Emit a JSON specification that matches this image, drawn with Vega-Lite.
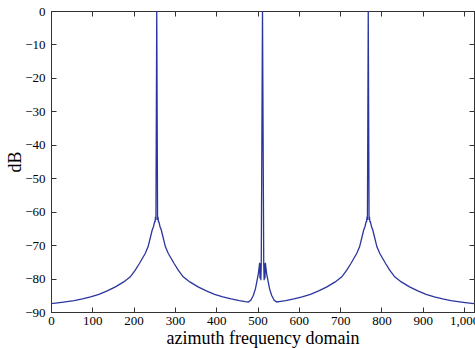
{
  "$schema": "https://vega.github.io/schema/vega-lite/v6.json",
  "width": 423,
  "height": 301,
  "autosize": {"type": "none"},
  "padding": {"left": 51, "top": 11, "right": 1, "bottom": 36},
  "background": "white",
  "config": {
    "view": {"stroke": "#333", "strokeWidth": 1},
    "axis": {
      "labelFont": "Liberation Serif",
      "titleFont": "Liberation Serif",
      "labelFontSize": 13,
      "titleFontSize": 18,
      "labelColor": "black",
      "titleColor": "black",
      "titleFontWeight": "normal",
      "domainColor": "#333",
      "tickColor": "#333",
      "grid": false
    }
  },
  "data": {"values": [
    {"x": 0, "y": -87.5}, {"x": 26, "y": -87.1}, {"x": 56, "y": -86.6}, {"x": 76, "y": -86.1},
    {"x": 96, "y": -85.5}, {"x": 116, "y": -84.7}, {"x": 136, "y": -83.7}, {"x": 156, "y": -82.5},
    {"x": 176, "y": -81}, {"x": 192, "y": -79.5}, {"x": 204, "y": -77.5}, {"x": 214, "y": -75.5},
    {"x": 221, "y": -74}, {"x": 228, "y": -72.5}, {"x": 235, "y": -70.5}, {"x": 241, "y": -67.5},
    {"x": 245, "y": -65.5}, {"x": 248, "y": -64.5}, {"x": 251, "y": -63}, {"x": 252, "y": -63},
    {"x": 253, "y": -61.5}, {"x": 254, "y": -62.5}, {"x": 256, "y": 0}, {"x": 258, "y": -62.5},
    {"x": 259, "y": -61.5}, {"x": 260, "y": -63}, {"x": 261, "y": -63}, {"x": 264, "y": -64.5},
    {"x": 267, "y": -65.5}, {"x": 271, "y": -67.5}, {"x": 277, "y": -70.5}, {"x": 284, "y": -72.5},
    {"x": 291, "y": -74}, {"x": 298, "y": -75.5}, {"x": 308, "y": -77.5}, {"x": 320, "y": -79.5},
    {"x": 336, "y": -81}, {"x": 356, "y": -82.5}, {"x": 376, "y": -83.7}, {"x": 396, "y": -84.7},
    {"x": 416, "y": -85.5}, {"x": 436, "y": -86.1}, {"x": 456, "y": -86.6}, {"x": 470, "y": -86.9},
    {"x": 478, "y": -87.0}, {"x": 484, "y": -86.4}, {"x": 490, "y": -85.0}, {"x": 495, "y": -83.0},
    {"x": 499, "y": -80.5}, {"x": 502, "y": -78.5}, {"x": 504, "y": -76.5}, {"x": 505, "y": -75.3},
    {"x": 506, "y": -80}, {"x": 507, "y": -75.5}, {"x": 508, "y": -80.5}, {"x": 509, "y": -76},
    {"x": 512, "y": 0}, {"x": 515, "y": -76}, {"x": 516, "y": -80.5}, {"x": 517, "y": -75.5},
    {"x": 518, "y": -80}, {"x": 519, "y": -75.3}, {"x": 520, "y": -76.5}, {"x": 522, "y": -78.5},
    {"x": 525, "y": -80.5}, {"x": 529, "y": -83.0}, {"x": 534, "y": -85.0}, {"x": 540, "y": -86.4},
    {"x": 546, "y": -87.0}, {"x": 556, "y": -86.8}, {"x": 568, "y": -86.6}, {"x": 588, "y": -86.1},
    {"x": 608, "y": -85.5}, {"x": 628, "y": -84.7}, {"x": 648, "y": -83.7}, {"x": 668, "y": -82.5},
    {"x": 688, "y": -81}, {"x": 704, "y": -79.5}, {"x": 716, "y": -77.5}, {"x": 726, "y": -75.5},
    {"x": 733, "y": -74}, {"x": 740, "y": -72.5}, {"x": 747, "y": -70.5}, {"x": 753, "y": -67.5},
    {"x": 757, "y": -65.5}, {"x": 760, "y": -64.5}, {"x": 763, "y": -63}, {"x": 764, "y": -63},
    {"x": 765, "y": -61.5}, {"x": 766, "y": -62.5}, {"x": 768, "y": 0}, {"x": 770, "y": -62.5},
    {"x": 771, "y": -61.5}, {"x": 772, "y": -63}, {"x": 773, "y": -63}, {"x": 776, "y": -64.5},
    {"x": 779, "y": -65.5}, {"x": 783, "y": -67.5}, {"x": 789, "y": -70.5}, {"x": 796, "y": -72.5},
    {"x": 803, "y": -74}, {"x": 810, "y": -75.5}, {"x": 820, "y": -77.5}, {"x": 832, "y": -79.5},
    {"x": 848, "y": -81}, {"x": 868, "y": -82.5}, {"x": 888, "y": -83.7}, {"x": 908, "y": -84.7},
    {"x": 928, "y": -85.5}, {"x": 948, "y": -86.1}, {"x": 968, "y": -86.6}, {"x": 998, "y": -87.1},
    {"x": 1024, "y": -87.5}
  ]},
  "layer": [
    {
      "mark": {"type": "line", "color": "#2b359e", "strokeWidth": 1.3, "clip": true},
      "encoding": {
        "x": {"field": "x", "type": "quantitative",
          "scale": {"domain": [0, 1024], "nice": false, "zero": false},
          "axis": {"orient": "bottom", "title": "azimuth frequency domain", "values": [0,100,200,300,400,500,600,700,800,900,1000],
            "labelFont": "Liberation Serif", "labelFontSize": 13, "titleFont": "Liberation Serif", "titleFontSize": 18,
            "tickSize": -5, "labelPadding": 7, "titlePadding": 2, "labelFlush": false, "labelOverlap": false}},
        "y": {"field": "y", "type": "quantitative",
          "scale": {"domain": [-90, 0], "nice": false, "zero": false},
          "axis": {"orient": "left", "title": "dB", "values": [-90,-80,-70,-60,-50,-40,-30,-20,-10,0],
            "labelFont": "Liberation Serif", "labelFontSize": 13, "titleFont": "Liberation Serif", "titleFontSize": 18,
            "tickSize": -5, "labelPadding": 11, "titlePadding": 0, "labelFlush": false, "labelOverlap": false}}
      }
    },
    {
      "mark": {"type": "line", "opacity": 0, "clip": true},
      "encoding": {
        "x": {"field": "x", "type": "quantitative",
          "axis": {"orient": "top", "title": null, "labels": false, "values": [0,100,200,300,400,500,600,700,800,900,1000], "tickSize": -5}},
        "y": {"field": "y", "type": "quantitative",
          "axis": {"orient": "right", "title": null, "labels": false, "values": [-90,-80,-70,-60,-50,-40,-30,-20,-10,0], "tickSize": -5}}
      }
    }
  ],
  "resolve": {"axis": {"x": "independent", "y": "independent"}}
}
